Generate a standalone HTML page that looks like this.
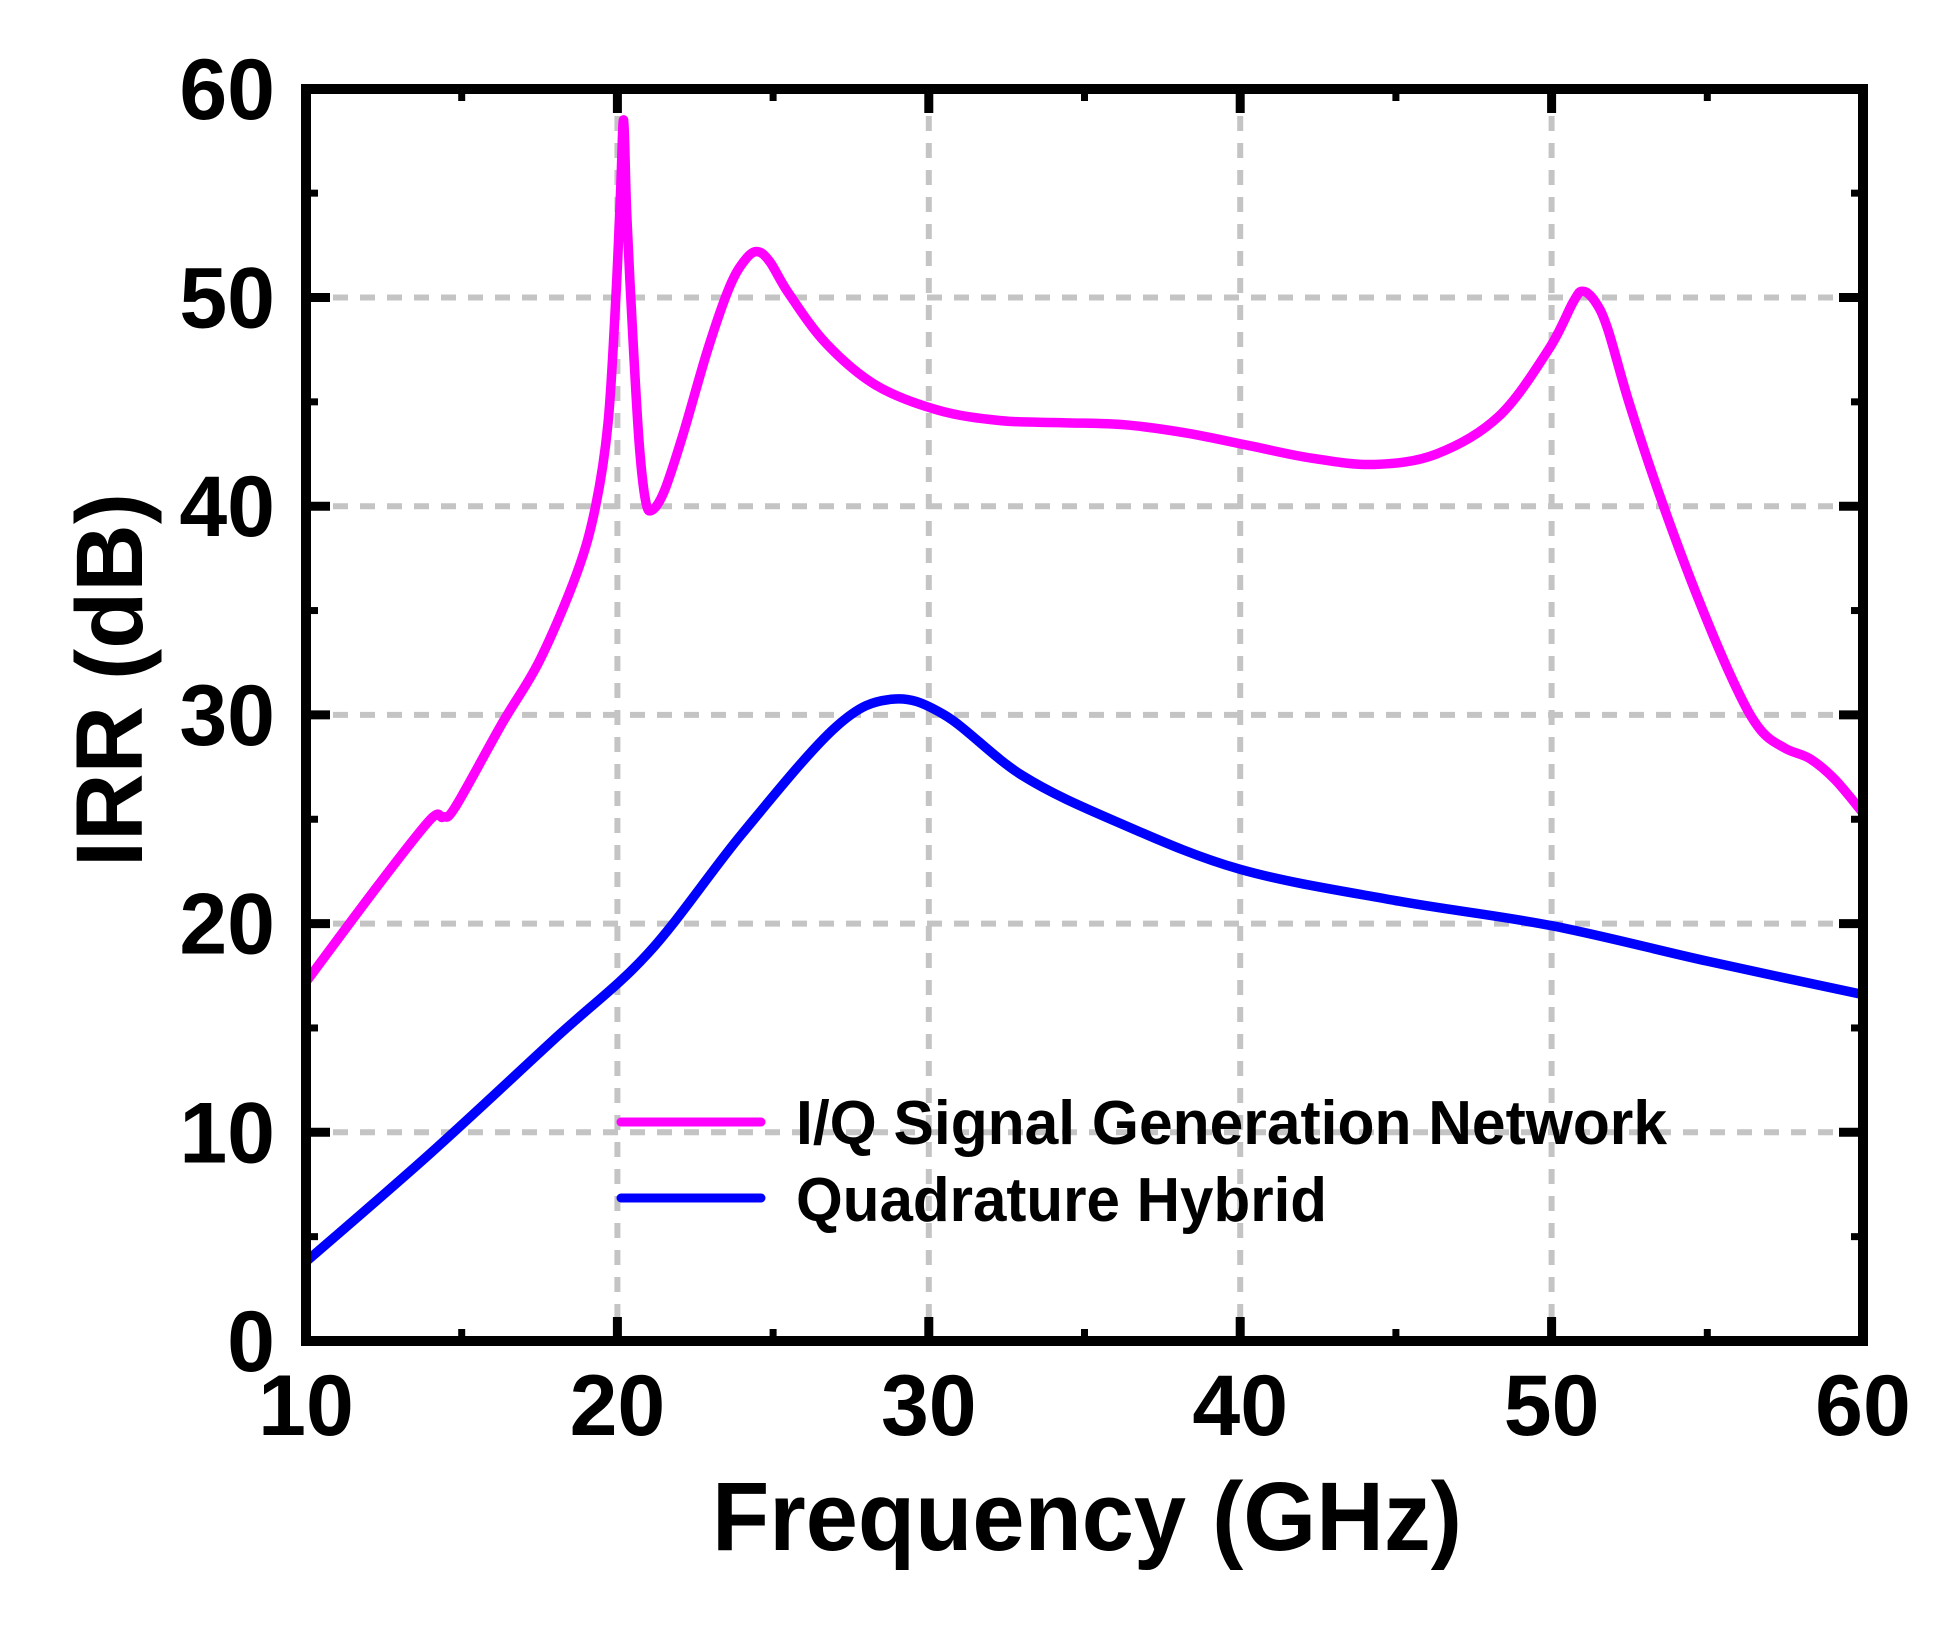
<!DOCTYPE html>
<html><head><meta charset="utf-8"><style>
html,body{margin:0;padding:0;background:#fff;}
svg{display:block;}
text{font-family:"Liberation Sans",Arial,sans-serif;font-weight:bold;fill:#000;}
</style></head><body>
<svg id="s" width="1956" height="1640" viewBox="0 0 1956 1640" xmlns="http://www.w3.org/2000/svg">
<g id="grid" stroke="#c4c4c4" stroke-width="6" stroke-dasharray="15 12" fill="none"></g>
<path id="pink" fill="none" stroke="#ff00ff" stroke-width="9.5" stroke-linejoin="round" stroke-linecap="round"/>
<path id="blue" fill="none" stroke="#0000ff" stroke-width="9.5" stroke-linejoin="round" stroke-linecap="round"/>
<g id="ticks" stroke="#000" fill="none"></g>
<rect x="306" y="89" width="1557" height="1252" fill="none" stroke="#000" stroke-width="10"/>
<g id="labels" font-size="86"></g>
<text x="1087" y="1550" font-size="97" text-anchor="middle" textLength="750" lengthAdjust="spacingAndGlyphs">Frequency (GHz)</text>
<text transform="translate(142,680) rotate(-90)" font-size="95" text-anchor="middle" textLength="374" lengthAdjust="spacingAndGlyphs">IRR (dB)</text>
<line x1="621" y1="1122" x2="761" y2="1122" stroke="#ff00ff" stroke-width="9" stroke-linecap="round"/>
<line x1="621" y1="1198" x2="761" y2="1198" stroke="#0000ff" stroke-width="9" stroke-linecap="round"/>
<text x="796" y="1144" font-size="62" textLength="871" lengthAdjust="spacingAndGlyphs">I/Q Signal Generation Network</text>
<text x="796" y="1221" font-size="62" textLength="531" lengthAdjust="spacingAndGlyphs">Quadrature Hybrid</text>
</svg>
<script>
var NS="http://www.w3.org/2000/svg";
function X(f){return 306+(f-10)*31.14;}
function Y(v){return 1341-v*20.87;}
function el(p,t,a){var e=document.createElementNS(NS,t);for(var k in a)e.setAttribute(k,a[k]);p.appendChild(e);return e;}
var g=document.getElementById('grid'),tk=document.getElementById('ticks'),lb=document.getElementById('labels');
[20,30,40,50].forEach(function(f){el(g,'line',{x1:X(f),y1:89,x2:X(f),y2:1341});});
[10,20,30,40,50].forEach(function(v){el(g,'line',{x1:306,y1:Y(v),x2:1863,y2:Y(v)});});
for(var f=10;f<=60;f+=5){var L=(f%10==0)?24:12,w=(f%10==0)?9:7;
 el(tk,'line',{x1:X(f),y1:1341,x2:X(f),y2:1341-L,'stroke-width':w});
 el(tk,'line',{x1:X(f),y1:89,x2:X(f),y2:89+L,'stroke-width':w});
 if(f%10==0){var t=el(lb,'text',{x:X(f),y:1435,'text-anchor':'middle'});t.textContent=f;}}
for(var v=0;v<=60;v+=5){var L=(v%10==0)?24:12,w=(v%10==0)?9:7;
 el(tk,'line',{x1:306,y1:Y(v),x2:306+L,y2:Y(v),'stroke-width':w});
 el(tk,'line',{x1:1863,y1:Y(v),x2:1863-L,y2:Y(v),'stroke-width':w});
 if(v%10==0){var t=el(lb,'text',{x:275,y:Y(v)+30,'text-anchor':'end'});t.textContent=v;}}
var pink=[[10,17.2],[12.3,21.8],[14,25],[14.4,25.1],[14.8,25.6],[16.3,29.6],[17.5,32.6],[18.7,36.8],[19.3,40],[19.7,44],[19.95,50],[20.1,55],[20.2,58.5],[20.3,54],[20.5,48],[20.7,43],[20.9,40.3],[21.1,39.8],[21.5,40.7],[22.1,43.4],[22.9,47.5],[23.6,50.5],[24.1,51.8],[24.5,52.2],[24.9,51.7],[25.5,50.2],[26.7,47.8],[28.3,45.8],[30.3,44.6],[32.3,44.1],[34.3,44],[36.3,43.9],[38.3,43.5],[40.3,42.9],[42.3,42.3],[44.3,42],[46.3,42.5],[48.3,44.3],[49.9,47.5],[50.7,49.8],[51,50.3],[51.4,49.8],[51.8,48.5],[52.5,44.9],[53.5,40.4],[54.7,35.6],[55.9,31.4],[56.7,29.3],[57.5,28.4],[58.3,27.9],[59.1,26.9],[60,25.3]];
var blue=[[10,3.8],[14,9.0],[18,14.5],[21,18.6],[24,24.3],[27,29.4],[28.8,30.75],[30.5,30],[33,27.1],[36,24.9],[40,22.6],[45,21.1],[50,19.9],[55,18.2],[60,16.6]];
function path(d){var p=d.map(function(a){return [X(a[0]),Y(a[1])];});var s='M'+p[0][0]+','+p[0][1];
 for(var i=0;i<p.length-1;i++){var p0=p[Math.max(0,i-1)],p1=p[i],p2=p[i+1],p3=p[Math.min(p.length-1,i+2)];
 var c1=[p1[0]+(p2[0]-p0[0])/6,p1[1]+(p2[1]-p0[1])/6],c2=[p2[0]-(p3[0]-p1[0])/6,p2[1]-(p3[1]-p1[1])/6];
 s+=' C'+c1[0]+','+c1[1]+' '+c2[0]+','+c2[1]+' '+p2[0]+','+p2[1];}return s;}
document.getElementById('pink').setAttribute('d',path(pink));
document.getElementById('blue').setAttribute('d',path(blue));
</script>
</body></html>
